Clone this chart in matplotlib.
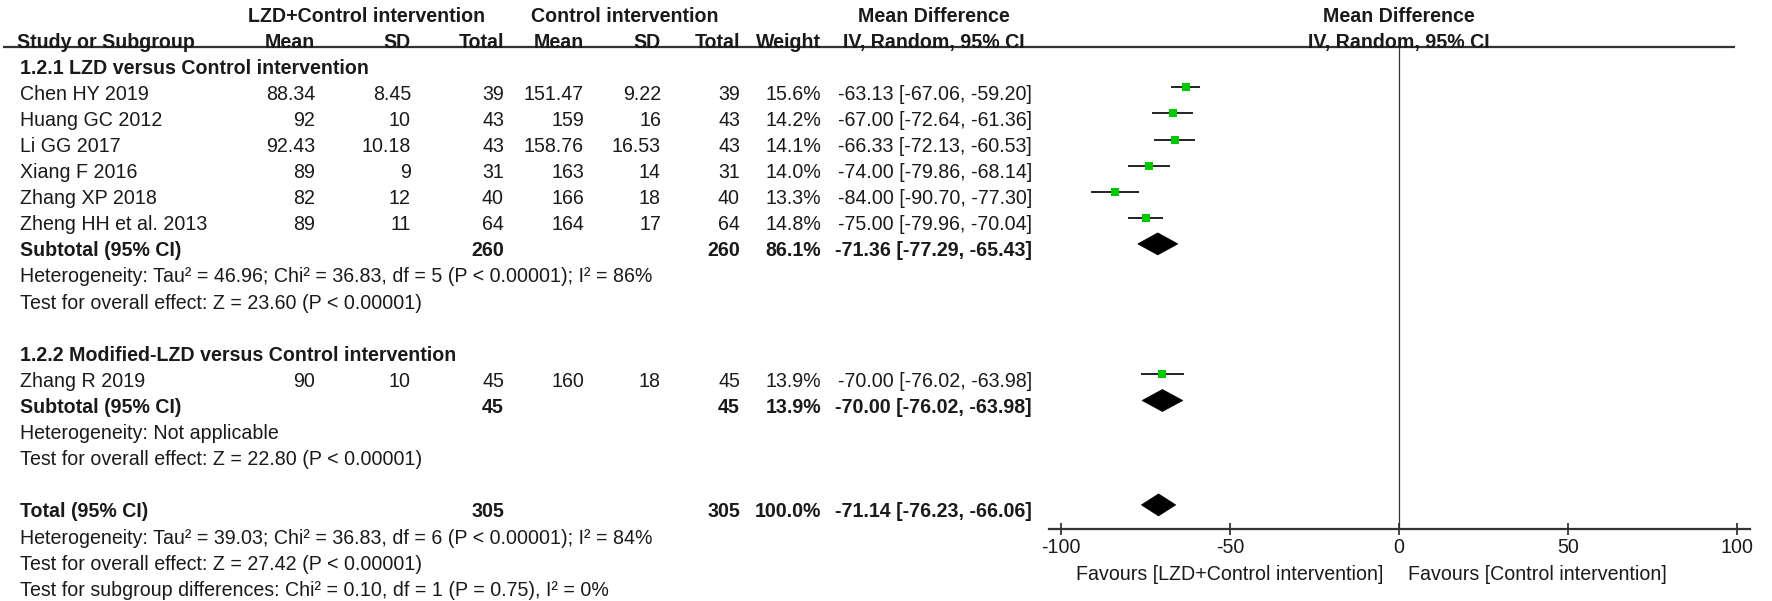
import matplotlib
matplotlib.use("Agg")
import matplotlib.pyplot as plt
from matplotlib.patches import Polygon

plt.rcParams['font.family'] = ['Liberation Sans', 'DejaVu Sans']

# ---- data ----
studies = ["Chen HY 2019", "Huang GC 2012", "Li GG 2017", "Xiang F 2016",
           "Zhang XP 2018", "Zheng HH et al. 2013", "Zhang R 2019"]
study_group = [0, 0, 0, 0, 0, 0, 1]
exp_mean = [88.34, 92, 92.43, 89, 82, 89, 90]
exp_sd = [8.45, 10, 10.18, 9, 12, 11, 10]
exp_n = [39, 43, 43, 31, 40, 64, 45]
ctl_mean = [151.47, 159, 158.76, 163, 166, 164, 160]
ctl_sd = [9.22, 16, 16.53, 14, 18, 17, 18]
ctl_n = [39, 43, 43, 31, 40, 64, 45]
weight = [15.6, 14.2, 14.1, 14.0, 13.3, 14.8, 13.9]
md = [-63.13, -67.00, -66.33, -74.00, -84.00, -75.00, -70.00]
md_lo = [-67.06, -72.64, -72.13, -79.86, -90.70, -79.96, -76.02]
md_hi = [-59.20, -61.36, -60.53, -68.14, -77.30, -70.04, -63.98]

groups = ["1.2.1 LZD versus Control intervention",
          "1.2.2 Modified-LZD versus Control intervention"]
sub_exp_n = [260, 45]
sub_ctl_n = [260, 45]
sub_weight = [86.1, 13.9]
sub_md = [-71.36, -70.00]
sub_lo = [-77.29, -76.02]
sub_hi = [-65.43, -63.98]
sub_het = ["Heterogeneity: Tau\u00b2 = 46.96; Chi\u00b2 = 36.83, df = 5 (P < 0.00001); I\u00b2 = 86%",
           "Heterogeneity: Not applicable"]
sub_test = ["Test for overall effect: Z = 23.60 (P < 0.00001)",
            "Test for overall effect: Z = 22.80 (P < 0.00001)"]

tot_exp_n = 305
tot_ctl_n = 305
tot_weight = 100.0
tot_md = -71.14
tot_lo = -76.23
tot_hi = -66.06
tot_notes = ["Heterogeneity: Tau\u00b2 = 39.03; Chi\u00b2 = 36.83, df = 6 (P < 0.00001); I\u00b2 = 84%",
             "Test for overall effect: Z = 27.42 (P < 0.00001)",
             "Test for subgroup differences: Chi\u00b2 = 0.10, df = 1 (P = 0.75), I\u00b2 = 0%"]

xticks = [-100, -50, 0, 50, 100]
fav_left = "Favours [LZD+Control intervention]"
fav_right = "Favours [Control intervention]"

# ---- layout (pixels) ----
W, H = 1772, 601
FS = 14.1
TXT = '#1a1a1a'
GREEN = '#00c800'
col_right = {'em': 315, 'esd': 411, 'en': 504, 'cm': 584, 'csd': 661, 'cn': 740, 'w': 821, 'ci': 1032}
x_label = 20


def row_y(r):
    return 15 + 26.1 * r


def fmt_ci(m, lo, hi):
    return "{:.2f} [{:.2f}, {:.2f}]".format(m, lo, hi)


fig = plt.figure(figsize=(W / 100, H / 100), dpi=100)
ov = fig.add_axes([0, 0, 1, 1])
ov.set_xlim(0, W)
ov.set_ylim(H, 0)
ov.axis('off')

# forest panel: x in mean difference units, y in pixels
ax_l, ax_r, ax_top, ax_bot = 1049, 1750, 47, 529
fa = fig.add_axes([ax_l / W, (H - ax_bot) / H, (ax_r - ax_l) / W, (ax_bot - ax_top) / H])
unit = 200 / (1737 - 1061)
fa.set_xlim(-100 - 12 * unit, 100 + 13 * unit)
fa.set_ylim(ax_bot, ax_top)
fa.patch.set_alpha(0)
for s in ['top', 'left', 'right']:
    fa.spines[s].set_visible(False)
fa.spines['bottom'].set_linewidth(1.6)
fa.spines['bottom'].set_color('#333333')
fa.set_yticks([])
fa.set_xticks(xticks)
fa.set_xticklabels([str(t) for t in xticks])
fa.tick_params(axis='x', direction='inout', length=9, width=1.3, color='#333333',
               labelsize=FS, labelcolor=TXT, pad=2)
fa.axvline(0, color='#333333', lw=0.9)


def txt(x, r, s, ha='left', bold=False):
    ov.text(x, row_y(r) + 6.5, s, ha=ha, va='baseline', fontsize=FS, color=TXT,
            fontweight='bold' if bold else 'normal')


def diamond(r, m, lo, hi):
    yc = row_y(r) - 6
    fa.add_patch(Polygon([(lo, yc), (m, yc - 11), (hi, yc), (m, yc + 11)],
                         closed=True, fc='black', ec='black', lw=0.5))


# headers
ov.text(367, row_y(0) + 6.5, "LZD+Control intervention", ha='center', va='baseline',
        fontsize=FS, fontweight='bold', color=TXT)
ov.text(625, row_y(0) + 6.5, "Control intervention", ha='center', va='baseline',
        fontsize=FS, fontweight='bold', color=TXT)
ov.text(934, row_y(0) + 6.5, "Mean Difference", ha='center', va='baseline',
        fontsize=FS, fontweight='bold', color=TXT)
ov.text(1399, row_y(0) + 6.5, "Mean Difference", ha='center', va='baseline',
        fontsize=FS, fontweight='bold', color=TXT)
txt(17, 1, "Study or Subgroup", bold=True)
for key, lab in [('em', 'Mean'), ('esd', 'SD'), ('en', 'Total'),
                 ('cm', 'Mean'), ('csd', 'SD'), ('cn', 'Total'), ('w', 'Weight')]:
    txt(col_right[key], 1, lab, ha='right', bold=True)
ov.text(934, row_y(1) + 6.5, "IV, Random, 95% CI", ha='center', va='baseline',
        fontsize=FS, fontweight='bold', color=TXT)
ov.text(1399, row_y(1) + 6.5, "IV, Random, 95% CI", ha='center', va='baseline',
        fontsize=FS, fontweight='bold', color=TXT)
ov.plot([3, 1735], [47, 47], color='#333333', lw=1.6, solid_capstyle='butt')

# body
r = 2
for g, gname in enumerate(groups):
    txt(x_label, r, gname, bold=True)
    r += 1
    for i in range(len(studies)):
        if study_group[i] != g:
            continue
        txt(x_label, r, studies[i])
        txt(col_right['em'], r, "{:g}".format(exp_mean[i]), ha='right')
        txt(col_right['esd'], r, "{:g}".format(exp_sd[i]), ha='right')
        txt(col_right['en'], r, str(exp_n[i]), ha='right')
        txt(col_right['cm'], r, "{:g}".format(ctl_mean[i]), ha='right')
        txt(col_right['csd'], r, "{:g}".format(ctl_sd[i]), ha='right')
        txt(col_right['cn'], r, str(ctl_n[i]), ha='right')
        txt(col_right['w'], r, "{:.1f}%".format(weight[i]), ha='right')
        txt(col_right['ci'], r, fmt_ci(md[i], md_lo[i], md_hi[i]), ha='right')
        yc = row_y(r) - 6
        fa.plot([md_lo[i], md_hi[i]], [yc, yc], color='#222222', lw=1.4)
        fa.plot([md[i]], [yc], marker='s', color=GREEN, ms=1.55 * weight[i] ** 0.5, mew=0)
        r += 1
    txt(x_label, r, "Subtotal (95% CI)", bold=True)
    txt(col_right['en'], r, str(sub_exp_n[g]), ha='right', bold=True)
    txt(col_right['cn'], r, str(sub_ctl_n[g]), ha='right', bold=True)
    txt(col_right['w'], r, "{:.1f}%".format(sub_weight[g]), ha='right', bold=True)
    txt(col_right['ci'], r, fmt_ci(sub_md[g], sub_lo[g], sub_hi[g]), ha='right', bold=True)
    diamond(r, sub_md[g], sub_lo[g], sub_hi[g])
    r += 1
    txt(x_label, r, sub_het[g])
    r += 1
    txt(x_label, r, sub_test[g])
    r += 2

txt(x_label, r, "Total (95% CI)", bold=True)
txt(col_right['en'], r, str(tot_exp_n), ha='right', bold=True)
txt(col_right['cn'], r, str(tot_ctl_n), ha='right', bold=True)
txt(col_right['w'], r, "{:.1f}%".format(tot_weight), ha='right', bold=True)
txt(col_right['ci'], r, fmt_ci(tot_md, tot_lo, tot_hi), ha='right', bold=True)
diamond(r, tot_md, tot_lo, tot_hi)
for note in tot_notes:
    r += 1
    txt(x_label, r, note)

ov.text(1383, 575, fav_left, ha='right', va='center', fontsize=FS, color=TXT)
ov.text(1408, 575, fav_right, ha='left', va='center', fontsize=FS, color=TXT)

fig.savefig("out.png", dpi=100)
